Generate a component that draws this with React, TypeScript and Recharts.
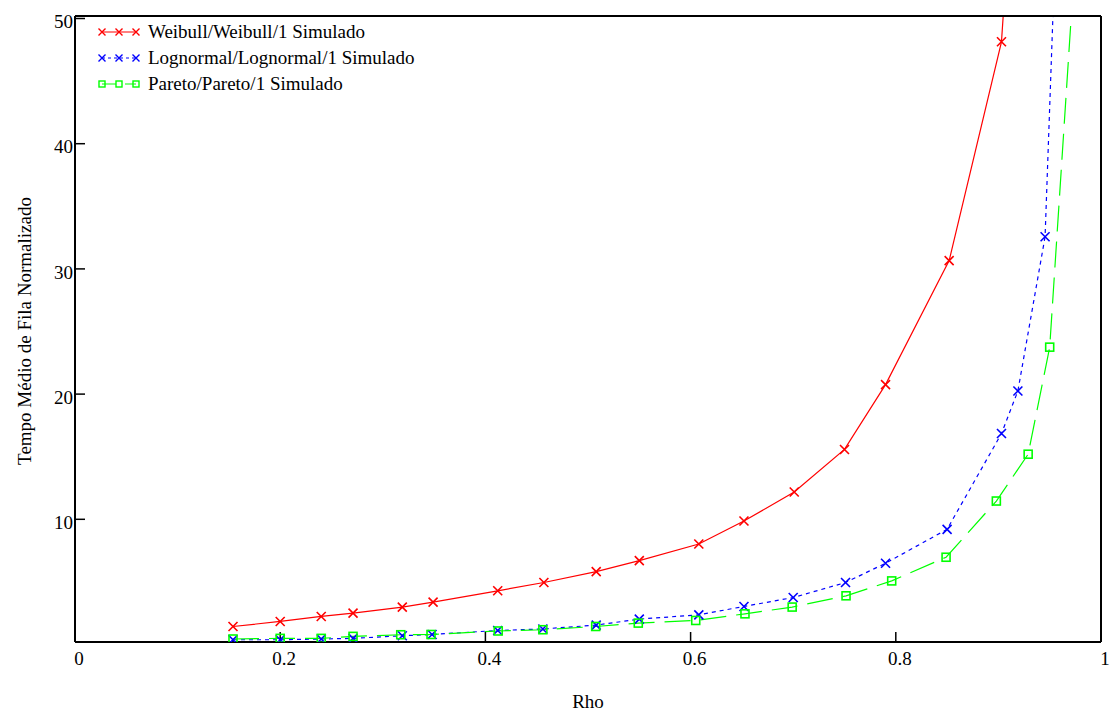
import React from 'react';
import { LineChart, Line, XAxis, YAxis } from 'recharts';

// ---- data ----
const rhoWeibull = [0.154, 0.2, 0.24, 0.271, 0.319, 0.349, 0.412, 0.457, 0.508, 0.55, 0.608, 0.652, 0.701, 0.75, 0.79, 0.852, 0.903, 0.95];
const tempoWeibull = [1.44, 1.84, 2.24, 2.51, 2.99, 3.39, 4.29, 4.95, 5.82, 6.7, 8.03, 9.86, 12.18, 15.58, 20.76, 30.66, 48.14, 106];

const rhoLognormal = [0.154, 0.2, 0.24, 0.271, 0.319, 0.348, 0.412, 0.456, 0.508, 0.55, 0.608, 0.652, 0.7, 0.751, 0.79, 0.85, 0.903, 0.919, 0.9455, 0.96];
const tempoLognormal = [0.38, 0.38, 0.44, 0.49, 0.7, 0.8, 1.12, 1.24, 1.55, 2.03, 2.37, 3.04, 3.75, 4.95, 6.49, 9.2, 16.85, 20.25, 32.57, 66];

const rhoPareto = [0.154, 0.2, 0.24, 0.271, 0.3175, 0.347, 0.4125, 0.456, 0.5075, 0.549, 0.605, 0.653, 0.699, 0.7515, 0.796, 0.849, 0.898, 0.929, 0.95, 0.98];
const tempoPareto = [0.44, 0.49, 0.49, 0.65, 0.78, 0.8, 1.08, 1.18, 1.44, 1.71, 1.92, 2.45, 2.99, 3.89, 5.08, 6.97, 11.46, 15.2, 23.75, 61.5];

const xTicks = [0, 0.2, 0.4, 0.6, 0.8, 1];
const yTicks = [10, 20, 30, 40, 50];
const seriesNames = ['Weibull/Weibull/1 Simulado', 'Lognormal/Lognormal/1 Simulado', 'Pareto/Pareto/1 Simulado'];
const xLabel = 'Rho';
const yLabel = 'Tempo Médio de Fila Normalizado';

const toRows = (xs: number[], ys: number[]) => xs.map((x, i) => ({ rho: x, tempo: ys[i] }));
const weibullData = toRows(rhoWeibull, tempoWeibull);
const lognormalData = toRows(rhoLognormal, tempoLognormal);
const paretoData = toRows(rhoPareto, tempoPareto);

const FONT = '"Liberation Serif", "Times New Roman", serif';
const RED = '#ff0000';
const BLUE = '#0000ff';
const GREEN = '#00ff00';

const crossPath = (cx: number, cy: number, s: number) =>
  `M${cx - s},${cy - s}L${cx + s},${cy + s}M${cx - s},${cy + s}L${cx + s},${cy - s}`;

const makeCross = (color: string, tag: string) => (props: any) => {
  const { cx, cy, index } = props;
  if (cx == null || cy == null) return <g key={`${tag}${index}`} />;
  return <path key={`${tag}${index}`} d={crossPath(cx, cy, 4.5)} stroke={color} strokeWidth={1.6} fill="none" />;
};

const makeSquare = (color: string, tag: string) => (props: any) => {
  const { cx, cy, index } = props;
  if (cx == null || cy == null) return <g key={`${tag}${index}`} />;
  return <rect key={`${tag}${index}`} x={cx - 4} y={cy - 4} width={8} height={8} stroke={color} strokeWidth={1.6} fill="none" />;
};

const LegendRow = ({ kind, color, dash, name }: { kind: string; color: string; dash?: string; name: string }) => {
  const xs = [5, 22, 39];
  return (
    <div style={{ display: 'flex', alignItems: 'center', height: 26 }}>
      <svg width={51} height={26} style={{ display: 'block' }}>
        <line x1={5} y1={13} x2={39} y2={13} stroke={color} strokeWidth={1.2} strokeDasharray={dash} />
        {xs.map((x, i) =>
          kind === 'cross' ? (
            <path key={i} d={crossPath(x, 13, 3.5)} stroke={color} strokeWidth={1.4} fill="none" />
          ) : (
            <rect key={i} x={x - 3} y={10} width={6} height={6} stroke={color} strokeWidth={1.4} fill="none" />
          )
        )}
      </svg>
      <span style={{ fontFamily: FONT, fontSize: 19, color: '#000', whiteSpace: 'nowrap', lineHeight: '26px' }}>{name}</span>
    </div>
  );
};

const axisLine = { stroke: '#000', strokeWidth: 2 };
const tickLine = { stroke: '#000', strokeWidth: 1.5 };

export default function App() {
  return (
    <div style={{ position: 'absolute', left: 0, top: 0, width: 1110, height: 713, background: '#fff' }}>
      <LineChart width={1110} height={713} margin={{ top: 0, right: 0, bottom: 0, left: 0 }}>
        <XAxis
          xAxisId="b"
          orientation="bottom"
          type="number"
          dataKey="rho"
          domain={[0, 1]}
          ticks={xTicks}
          allowDataOverflow
          height={71}
          axisLine={axisLine}
          tickLine={tickLine}
          tickSize={-10}
          tickMargin={20}
          tick={{ fill: '#000', fontSize: 19, fontFamily: FONT, dx: 4 }}
          label={(p: any) => {
            const vb = p.viewBox;
            return (
              <text x={vb.x + vb.width / 2} y={708} textAnchor="middle" fontFamily={FONT} fontSize={19} fill="#000">
                {xLabel}
              </text>
            );
          }}
        />
        <XAxis
          xAxisId="t"
          orientation="top"
          type="number"
          dataKey="rho"
          domain={[0, 1]}
          ticks={xTicks}
          allowDataOverflow
          height={16}
          axisLine={axisLine}
          tickLine={tickLine}
          tickSize={-10}
          tick={false}
        />
        <YAxis
          yAxisId="l"
          orientation="left"
          type="number"
          domain={[0.2, 50.2]}
          ticks={yTicks}
          allowDataOverflow
          width={75}
          axisLine={axisLine}
          tickLine={tickLine}
          tickSize={-10}
          tickMargin={12}
          tick={{ fill: '#000', fontSize: 19, fontFamily: FONT, dy: 3 }}
          label={(p: any) => {
            const vb = p.viewBox;
            const cy = vb.y + vb.height / 2 + 2;
            return (
              <text x={31} y={cy} transform={`rotate(-90 31 ${cy})`} textAnchor="middle" fontFamily={FONT} fontSize={19} fill="#000">
                {yLabel}
              </text>
            );
          }}
        />
        <YAxis
          yAxisId="r"
          orientation="right"
          type="number"
          domain={[0.2, 50.2]}
          ticks={yTicks}
          allowDataOverflow
          width={9}
          axisLine={axisLine}
          tickLine={tickLine}
          tickSize={-10}
          tick={false}
        />
        <Line
          xAxisId="b"
          yAxisId="l"
          data={weibullData}
          dataKey="tempo"
          type="linear"
          stroke={RED}
          strokeWidth={1.2}
          dot={makeCross(RED, 'w')}
          activeDot={false}
          isAnimationActive={false}
        />
        <Line
          xAxisId="b"
          yAxisId="l"
          data={lognormalData}
          dataKey="tempo"
          type="linear"
          stroke={BLUE}
          strokeWidth={1.2}
          strokeDasharray="4 4"
          dot={makeCross(BLUE, 'l')}
          activeDot={false}
          isAnimationActive={false}
        />
        <Line
          xAxisId="b"
          yAxisId="l"
          data={paretoData}
          dataKey="tempo"
          type="linear"
          stroke={GREEN}
          strokeWidth={1.2}
          strokeDasharray="26 10"
          dot={makeSquare(GREEN, 'p')}
          activeDot={false}
          isAnimationActive={false}
        />
      </LineChart>
      <div style={{ position: 'absolute', left: 97, top: 19 }}>
        <LegendRow kind="cross" color={RED} name={seriesNames[0]} />
        <LegendRow kind="cross" color={BLUE} dash="3 3" name={seriesNames[1]} />
        <LegendRow kind="square" color={GREEN} dash="14 9" name={seriesNames[2]} />
      </div>
    </div>
  );
}
